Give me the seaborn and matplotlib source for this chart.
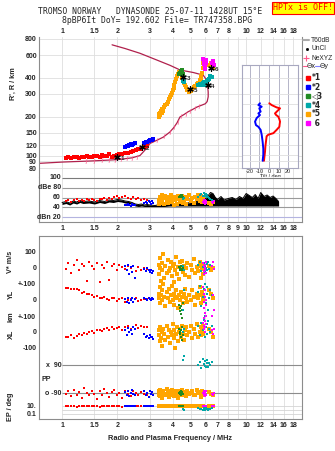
import matplotlib
matplotlib.use('Agg')
import matplotlib.pyplot as plt
import seaborn as sns
from matplotlib.ticker import NullLocator
from matplotlib.lines import Line2D

sns.set_style('white')
plt.rcParams['font.family'] = ['Liberation Sans', 'DejaVu Sans']

# ---------------- data ----------------
FREQ_TICKS = [1, 1.5, 2, 3, 4, 5, 6, 7, 8, 9, 10, 12, 14, 16, 18]
TOP_LABELS = ['1', '1.5', '2', '3', '4', '5', '6', '7', '8', '', '10', '12', '14', '16', '18']
MID_LABELS = ['1', '1.5', '2', '3', '4', '5', '6', '7', '8', '9', '10', '12', '14', '16', '18']
H_TICKS = [80, 90, 100, 120, 150, 200, 300, 400, 600, 800]

red_f = [1.05, 1.08, 1.12, 1.16, 1.20, 1.24, 1.28, 1.32,
         1.36, 1.40, 1.45, 1.50, 1.55, 1.60, 1.65, 1.70,
         1.75, 1.80, 1.86, 1.92, 1.98, 2.05, 2.12, 2.20,
         2.28, 2.36, 2.44, 2.52, 2.60, 2.68, 2.78, 2.88]
red_h = [96, 97, 96, 98, 97, 96, 98, 97,
         99, 98, 97, 99, 100, 98, 101, 99,
         100, 102, 98, 100, 101, 103, 102, 105,
         104, 107, 108, 110, 112, 113, 116, 119]
red_db = [53, 56, 52, 55, 57, 54, 56, 53,
          57, 55, 58, 56, 54, 58, 57, 59,
          56, 60, 58, 61, 63, 59, 62, 64,
          60, 58, 61, 57, 59, 55, 58, 56]
red_vs = [-5, 30, -30, 20, 50, -10, 25, 10,
          -80, 40, 15, -5, 30, -90, 20, 0,
          35, -75, 10, 25, -10, 20, 5, -5,
          10, 0, 15, -20, 5, -10, 0, -5]
red_yl = [75, 72, 70, 68, 66, 60, 45, 50,
          40, 35, 30, 20, 25, 15, 10, 20,
          5, 0, 15, 10, -5, 5, 10, -10,
          0, 5, -15, 10, -5, 0, 8, 5]
red_xl = [-35, -30, -20, -40, -25, -15, -20, -5,
          -10, 0, 5, -5, 10, 15, 5, 20,
          25, 10, 30, 20, 25, 35, 15, 30,
          40, 20, 35, 45, 25, 40, 30, 35]
red_pp = [-95, -80, -110, -70, -100, -85, -120, -60,
          -90, -105, -75, -95, -130, -80, -100, -65,
          -90, -115, -85, -70, -100, -90, -125, -80,
          -95, -110, -75, -90, -100, -85, -95, -105]
red_ep = [8, 12, 9, 11, 7, 10, 13, 9,
          8, 11, 12, 10, 9, 7, 11, 10,
          13, 8, 9, 12, 10, 11, 6, 9,
          10, 12, 8, 11, 9, 10, 8, 11]

blue_f = [2.20, 2.24, 2.28, 2.32, 2.36, 2.40, 2.44, 2.50,
          2.80, 2.85, 2.90, 2.95, 3.00, 3.04, 3.08, 3.12]
blue_h = [117, 119, 118, 121, 122, 120, 123, 124,
          125, 128, 127, 130, 131, 133, 132, 135]
blue_db = [46, 44, 48, 45, 43, 47, 44, 46,
           50, 52, 49, 53, 51, 48, 54, 50]
blue_vs = [10, -15, 20, -40, 5, -25, 15, -60,
           -5, -20, 0, -15, -25, -10, -30, -20]
blue_yl = [5, -15, 10, -20, 0, 15, -10, 5,
           10, 5, 0, 12, 8, 3, 10, 6]
blue_xl = [10, -20, 25, 0, 15, -10, 30, 20,
           -15, -30, -25, -40, -20, -35, -30, -45]
blue_pp = [-85, -100, -75, -110, -90, -70, -95, -105,
           -80, -100, -90, -115, -75, -95, -85, -100]
blue_ep = [10, 9, 11, 10, 12, 8, 10, 11,
           9, 10, 12, 10, 11, 9, 10, 11]

green_f = [4.30, 4.35, 4.38, 4.42, 4.45, 4.48, 4.50, 4.53]
green_h = [425, 440, 432, 455, 445, 435, 460, 428]
green_db = [62, 64, 63, 65, 61, 66, 63, 62]
green_vs = [5, -10, 0, 10, -5, 15, -15, 0]
green_yl = [-30, -50, -70, -40, -90, -60, -110, -20]
green_xl = [20, -10, 0, -30, 10, -50, 30, -20]
green_pp = [-90, -85, -95, -80, -100, -90, -85, -95]
green_ep = [10, 11, 9, 10, 12, 10, 9, 11]

teal_f = [4.55, 4.60, 5.50, 5.60, 5.70, 5.80, 5.90, 5.95,
          6.00, 6.05, 6.10, 6.15, 6.20, 6.30, 6.40, 6.50]
teal_h = [380, 370, 355, 360, 352, 365, 372, 358,
          350, 362, 375, 368, 385, 395, 410, 405]
teal_db = [58, 60, 62, 65, 68, 64, 70, 66,
           63, 67, 61, 65, 62, 60, 58, 56]
teal_vs = [10, -10, 20, 35, -20, 5, 30, -25,
           15, 0, 25, -10, 35, -5, 20, 10]
teal_yl = [-60, 60, 50, 90, -40, 20, 70, -80,
           100, -20, 40, 80, -60, 10, 60, 30]
teal_xl = [0, 20, 40, -20, 60, 10, 80, -30,
           100, 30, 50, -10, 70, 20, 0, 40]
teal_pp = [120, 150, 90, 110, 70, 130, 95, 85,
           115, 75, 100, 125, 80, 105, 90, 110]
teal_ep = [2, 1, 3, 1.5, 2, 1, 2.5, 1.2,
           2, 3, 1.5, 2, 1, 2, 1.5, 2.5]

orange_f = [3.35, 3.38, 3.40, 3.42, 3.45, 3.48, 3.50, 3.55,
            3.60, 3.62, 3.70, 3.75, 3.80, 3.85, 3.90, 3.95,
            4.00, 4.05, 4.08, 4.12, 4.15, 4.20, 4.25, 4.30,
            4.35, 4.45, 4.50, 4.55, 4.60, 4.65, 4.70, 4.80,
            4.90, 5.00, 5.10, 5.20, 5.30, 5.40, 5.50, 5.60,
            5.65, 5.70, 5.75, 5.80, 5.85, 6.30, 6.45, 6.60]
orange_h = [198, 210, 205, 215, 222, 212, 228, 220,
            236, 246, 252, 262, 272, 286, 296, 306,
            322, 336, 352, 372, 392, 412, 430, 446,
            440, 425, 398, 382, 366, 352, 338, 320,
            312, 318, 330, 338, 345, 356, 368, 386,
            398, 412, 440, 480, 520, 500, 520, 480]
orange_db = [48, 55, 62, 50, 58, 65, 52, 60,
             47, 63, 56, 49, 61, 54, 66, 51,
             58, 45, 62, 55, 60, 48, 64, 57,
             52, 59, 63, 50, 56, 61, 47, 58,
             65, 53, 60, 49, 62, 57, 66, 54,
             59, 63, 51, 58, 55, 50, 48, 52]
orange_vs = [20, -40, 60, 0, -80, 30, -10, 90,
             -60, 10, -30, 50, -20, 0, 40, -50,
             15, -90, 25, -15, 70, -35, 5, -70,
             35, -5, 45, -25, 10, -45, 0, 30,
             -55, 20, -10, 55, -30, 5, -20, 40,
             -60, 15, -5, 25, -40, 10, -15, 0]
orange_yl = [40, 10, 80, -20, 30, 60, 0, 100,
             20, -40, 50, 10, 70, -10, 30, 90,
             0, 40, -30, 20, 60, 10, -50, 30,
             0, 50, 20, -20, 40, 70, 10, -10,
             30, 0, 60, 20, -30, 40, 10, 80,
             -20, 30, 50, 0, 20, 60, 40, 10]
orange_xl = [-20, 10, -60, 30, -40, 0, -90, 20,
             -10, -50, 40, -30, 10, -70, 0, -20,
             50, -40, 10, -100, -10, 30, -60, 0,
             20, -30, 40, -10, -50, 10, 30, -20,
             0, 40, -40, 20, -10, 50, -30, 0,
             30, -20, 10, 40, -10, 20, 0, -30]
orange_pp = [-80, -100, -70, -110, -90, -85, -120, -75,
             -95, -105, -65, -90, -115, -80, -100, -70,
             -95, -110, -85, -75, -100, -90, -120, -80,
             -95, -105, -70, -90, -100, -85, -110, -75,
             -95, -90, -80, -105, -100, -70, -90, -85,
             -115, -95, -80, -100, -90, -85, -95, -100]
orange_ep = [10, 9, 11, 12, 8, 10, 11, 9,
             10, 12, 9, 11, 10, 8, 11, 10,
             9, 12, 10, 11, 9, 10, 12, 8,
             11, 10, 9, 12, 10, 11, 9, 10,
             12, 8, 10, 11, 9, 10, 12, 10,
             11, 9, 10, 12, 8, 10, 11, 9]

magenta_f = [5.85, 5.88, 5.90, 5.92, 5.95, 5.98, 6.00, 6.02, 6.05, 6.50, 6.60, 6.70]
magenta_h = [560, 545, 530, 515, 500, 485, 470, 550, 520, 525, 545, 505]
magenta_db = [52, 55, 50, 53, 48, 56, 51, 54, 49, 52, 50, 53]
magenta_vs = [30, -20, 10, -40, 20, 0, -10, 35, -30, 15, 40, -5]
magenta_yl = [80, 40, -10, -50, 20, -80, 60, -30, 0, -100, 30, -60]
magenta_xl = [60, 20, 90, 40, 0, 70, 30, 100, 50, 10, -10, 20]
magenta_pp = [-90, -100, -80, -95, -110, -85, -90, -100, -75, -95, -105, -90]
magenta_ep = [10, 11, 9, 12, 10, 8, 11, 10, 9, 12, 10, 11]

# model profile curve (R vs f)
curve_f = [0.75, 1.0, 1.5, 2.0, 2.4, 2.65, 2.85, 3.0,
           3.3, 3.55, 3.85, 4.05, 4.21, 4.37, 4.6, 4.83,
           5.1, 5.42, 5.75, 6.0, 6.14, 6.22, 6.22, 6.18,
           6.1, 5.84, 5.16, 4.38, 3.86, 3.28, 2.65, 2.2, 1.87]
curve_h = [87, 89, 91, 93, 96, 100, 112, 124,
           132, 139, 152, 165, 179, 199, 208, 218,
           227, 238, 246, 252, 262, 285, 310, 345,
           385, 420, 440, 460, 500, 549, 620, 675, 721]
nexyz_f = [1.35, 1.5, 1.65, 1.8, 1.95, 2.1, 2.25, 2.4, 2.55,
           3.3, 3.6, 3.85, 4.05, 4.25, 4.45, 4.7, 4.95, 5.25, 5.55]
nexyz_h = [91, 91, 92, 92, 93, 94, 95, 96, 98,
           132, 141, 152, 165, 182, 201, 210, 221, 232, 242]

mark_f = [2.0, 2.72, 4.55, 6.2, 4.97, 6.45]
mark_h = [97, 117, 405, 352, 330, 480]
mark_lbl = ['1', '2', '3', '4', '5', '6']

# tilt inset
tilt_h_red = [254, 246, 236, 232, 222, 212, 206, 200,
              190, 183, 175, 167, 158, 149, 145, 141,
              128, 118, 107, 98, 91]
tilt_red = [0.3, 2.8, 8, 11.6, 9, 6.3, 7.5, 9.8,
            11, 11.6, 11.2, 10.9, 8, 4.6, -0.7, -2.5,
            -3.2, -3.8, -4.2, -4.8, -5.3]
tilt_h_blue = [254, 246, 239, 232, 219, 212, 206, 195,
               183, 172, 167, 158, 145, 128, 113, 101, 91]
tilt_blue = [-9.5, -11.2, -7.7, -10.2, -8.8, -11.2, -9.5, -13,
             -14.7, -13.7, -11.2, -8.8, -7.7, -6.7, -6, -6, -6.7]
TILT_TICKS = [-20, -10, 0, 10, 20]

# amplitude noise trace
noise_f = [1.0, 1.05, 1.1, 1.15, 1.2, 1.25, 1.3, 1.4,
           1.5, 1.6, 1.7, 1.8, 1.9, 2.0, 2.1, 2.2,
           2.3, 2.4, 2.5, 2.6, 2.7, 2.8, 2.9, 3.0,
           3.2, 3.4, 3.6, 3.8, 4.0, 4.3, 4.6, 5.0,
           5.4, 5.8, 6.0, 6.2, 6.4, 6.6, 6.8, 7.0,
           7.3, 7.6, 8.0, 8.4, 8.8, 9.2, 9.6, 10.0,
           10.4, 10.8, 11.2, 11.6, 12.0, 12.5, 13.0, 13.5,
           14.0, 14.5, 15.0]
noise_hi = [50, 52, 49, 53, 51, 54, 52, 53,
            51, 54, 52, 55, 54, 56, 55, 53,
            52, 50, 47, 46, 47, 45, 46, 45,
            44, 46, 45, 48, 47, 49, 48, 50,
            52, 54, 58, 63, 70, 68, 60, 56,
            62, 55, 58, 60, 56, 62, 58, 68,
            64, 60, 66, 58, 70, 62, 65, 60,
            63, 58, 52]
noise_lo = [46, 48, 45, 49, 47, 50, 48, 49,
            47, 50, 48, 51, 50, 52, 51, 49,
            48, 46, 43, 42, 43, 42, 42, 42,
            42, 42, 42, 43, 43, 43, 43, 43,
            43, 43, 43, 43, 43, 43, 43, 43,
            43, 43, 43, 43, 43, 43, 43, 43,
            43, 43, 43, 43, 43, 43, 43, 43,
            43, 43, 43]

RED, BLUE, GREEN, TEAL, ORANGE, MAGENTA = '#ff0000', '#0000ff', '#228b22', '#00a8a8', '#ffa500', '#ff00ff'
MAROON, PINK = '#b0204c', '#ff5a8c'
GRID = '#dedede'
FRAME = '#8c8c8c'

series = [
    (red_f, red_h, red_db, red_vs, red_yl, red_xl, red_pp, red_ep, RED),
    (blue_f, blue_h, blue_db, blue_vs, blue_yl, blue_xl, blue_pp, blue_ep, BLUE),
    (orange_f, orange_h, orange_db, orange_vs, orange_yl, orange_xl, orange_pp, orange_ep, ORANGE),
    (green_f, green_h, green_db, green_vs, green_yl, green_xl, green_pp, green_ep, GREEN),
    (teal_f, teal_h, teal_db, teal_vs, teal_yl, teal_xl, teal_pp, teal_ep, TEAL),
    (magenta_f, magenta_h, magenta_db, magenta_vs, magenta_yl, magenta_xl, magenta_pp, magenta_ep, MAGENTA),
]

# ---------------- figure ----------------
W, H = 335, 451
fig = plt.figure(figsize=(W / 100, H / 100), dpi=100)
fig.patch.set_facecolor('white')


def rect(x0, y0, x1, y1):
    return [x0 / W, 1 - y1 / H, (x1 - x0) / W, (y1 - y0) / H]


def fx(x):
    return x / W


def fy(y):
    return 1 - y / H


XMIN, XMAX = 0.75, 20.1
TFS = 5


def psize(c):
    return 7 if c == ORANGE else 4.5


def bold_ticks(a):
    for lbl in a.get_xticklabels() + a.get_yticklabels():
        lbl.set_fontweight('bold')


def pts(a, x, y, color, s):
    sns.scatterplot(x=x, y=y, ax=a, color=color, marker='s', s=s, linewidth=0,
                    legend=False, zorder=3)


def style_frame(a, hide=()):
    for k, sp in a.spines.items():
        sp.set_color(FRAME)
        sp.set_linewidth(0.8)
        if k in hide:
            sp.set_visible(False)


# ----- main ionogram -----
ax = fig.add_axes(rect(39, 37, 302, 177))
ax.set_xscale('log')
ax.set_yscale('log')
ax.set_xlim(XMIN, XMAX)
ax.set_ylim(68.2, 829)
ax.xaxis.set_minor_locator(NullLocator())
ax.yaxis.set_minor_locator(NullLocator())
ax.set_xticks(FREQ_TICKS)
ax.set_xticklabels(TOP_LABELS)
ax.xaxis.tick_top()
ax.set_yticks(H_TICKS)
ax.set_yticklabels([str(v) for v in H_TICKS])
ax.tick_params(length=0, labelsize=TFS, pad=1.5)
ax.grid(True, color=GRID, lw=0.6)
bold_ticks(ax)
style_frame(ax, hide=('bottom', 'top'))

sns.lineplot(x=curve_f, y=curve_h, ax=ax, sort=False, estimator=None, color=MAROON, lw=0.9, zorder=2)
sns.scatterplot(x=nexyz_f, y=nexyz_h, ax=ax, color=PINK, marker='$I$', s=12, linewidth=0, legend=False, zorder=2)
for (f, h, db, vs, yl, xl, pp, ep, c) in series:
    pts(ax, f, h, c, 11 if c == ORANGE else 5)
sns.scatterplot(x=mark_f, y=mark_h, ax=ax, color='black', marker=(6, 2, 0), s=16, linewidth=0.9,
                edgecolor='black', legend=False, zorder=4)
for f, h, l in zip(mark_f, mark_h, mark_lbl):
    ax.annotate(l, (f, h), xytext=(2.5, -1), textcoords='offset points', fontsize=4.5,
                fontweight='bold', va='center', ha='left', zorder=5)
ax.set_xlabel('')
ax.set_ylabel('')

# ----- tilt inset -----
axt = fig.add_axes(rect(242, 65, 298, 168))
axt.set_facecolor('white')
axt.set_xlim(-28.4, 30.5)
axt.set_yscale('log')
axt.set_ylim(80, 503)
axt.yaxis.set_minor_locator(NullLocator())
axt.set_xticks(TILT_TICKS)
axt.set_xticklabels([str(v) for v in TILT_TICKS])
axt.set_yticks([90, 100, 120, 150, 200, 250, 300, 400])
axt.set_yticklabels([])
axt.tick_params(length=0, labelsize=4, pad=0.5)
axt.grid(True, axis='y', color=GRID, lw=0.6)
axt.grid(True, axis='x', color='#b4b4c8', lw=0.7)
for sp in axt.spines.values():
    sp.set_color('#a8a8c0')
    sp.set_linewidth(0.8)
sns.lineplot(x=tilt_red, y=tilt_h_red, ax=axt, sort=False, estimator=None, color=RED, lw=1.4)
sns.lineplot(x=tilt_blue, y=tilt_h_blue, ax=axt, sort=False, estimator=None, color=BLUE, lw=1.4)
axt.set_xlabel('Tilt / deg', fontsize=4, labelpad=0)
axt.set_ylabel('')

# ----- amplitude panel -----
axd = fig.add_axes(rect(39, 177, 302, 222))
axd.set_xscale('log')
axd.set_xlim(XMIN, XMAX)
axd.set_ylim(11, 101)
axd.xaxis.set_minor_locator(NullLocator())
axd.set_xticks(FREQ_TICKS)
axd.set_xticklabels(MID_LABELS)
axd.set_yticks([])
axd.tick_params(length=0, labelsize=TFS, pad=2)
axd.grid(True, axis='x', color=GRID, lw=0.6)
bold_ticks(axd)
style_frame(axd, hide=('top',))
for v, c in [(100, '#7a7a7a'), (80, '#9a9a9a'), (60, '#9a9a9a'), (40, '#9a9a9a'), (20, '#b4b4e0')]:
    axd.hlines(v, 1.0, XMAX, color=c, lw=0.8, zorder=1)
for v, l in [(100, '100'), (80, 'dBe 80'), (60, '60'), (40, '40'), (20, 'dBn 20')]:
    axd.text(0.985, v, l, ha='right', va='center', fontsize=TFS, fontweight='bold')
axd.fill_between(noise_f, noise_lo, noise_hi, color='black', lw=0, zorder=2)
sns.lineplot(x=noise_f, y=noise_hi, ax=axd, color='black', lw=0.7, estimator=None, zorder=2)
for (f, h, db, vs, yl, xl, pp, ep, c) in series:
    pts(axd, f, db, c, psize(c))
axd.set_xlabel('')
axd.set_ylabel('')

# ----- lower multi-parameter panel -----
LR = rect(39, 236, 302, 419)
axv = fig.add_axes(LR)
axv.set_xscale('log')
axv.set_xlim(XMIN, XMAX)
axv.xaxis.set_minor_locator(NullLocator())
axv.set_xticks(FREQ_TICKS)
axv.set_xticklabels(TOP_LABELS)
axv.set_ylim(-943.75, 200)
axv.set_yticks([100, 0])
axv.set_yticklabels(['100', '0'])
axv.tick_params(length=0, labelsize=TFS, pad=2)
axv.grid(True, axis='x', color=GRID, lw=0.6)
bold_ticks(axv)
style_frame(axv)


def overlay(ylim, ticks, labels, log=False):
    a = fig.add_axes(LR)
    a.patch.set_alpha(0)
    a.set_xscale('log')
    a.set_xlim(XMIN, XMAX)
    if log:
        a.set_yscale('log')
    a.set_ylim(*ylim)
    a.xaxis.set_minor_locator(NullLocator())
    a.yaxis.set_minor_locator(NullLocator())
    a.set_xticks([])
    a.set_yticks(ticks)
    a.set_yticklabels(labels)
    a.tick_params(length=0, labelsize=TFS, pad=2)
    bold_ticks(a)
    for sp in a.spines.values():
        sp.set_visible(False)
    return a


axyl = overlay((-743.75, 400), [100, 0], ['+-100', '0'])
axxl = overlay((-561, 619), [100, 0, -100], ['+-100', '0', '-100'])
axpp = overlay((-257, 919), [], [])
axep = overlay((10 ** -2.25, 10 ** 43.5), [10, 0.1], ['10.', '0.1'], log=True)

axpp.hlines([90, -90], 1.0, XMAX, color='#8c8c8c', lw=0.8, zorder=1)
axep.hlines([10, 1, 0.1], 1.0, XMAX, color='#d4d4d4', lw=0.6, zorder=1)
axpp.text(0.99, 90, 'x  90', ha='right', va='center', fontsize=TFS, fontweight='bold')
axpp.text(0.99, -90, 'o -90', ha='right', va='center', fontsize=TFS, fontweight='bold')
axpp.text(0.775, -6, 'PP', ha='left', va='center', fontsize=TFS, fontweight='bold')

for (f, h, db, vs, yl, xl, pp, ep, c) in series:
    s = psize(c)
    pts(axv, f, vs, c, s)
    pts(axyl, f, yl, c, s)
    pts(axxl, f, xl, c, s)
    pts(axpp, f, pp, c, s)
    pts(axep, f, ep, c, s)
for a in (axv, axyl, axxl, axpp, axep):
    a.set_xlabel('')
    a.set_ylabel('')

# ----- axis titles -----
fig.text(fx(13), fy(84), "R', R / km", rotation=90, ha='center', va='center', fontsize=5.2, fontweight='bold')
fig.text(fx(11), fy(262), 'V* m/s', rotation=90, ha='center', va='center', fontsize=5.2, fontweight='bold')
fig.text(fx(11), fy(294), 'YL', rotation=90, ha='center', va='center', fontsize=5.2, fontweight='bold')
fig.text(fx(11), fy(317), 'km', rotation=90, ha='center', va='center', fontsize=5.2, fontweight='bold')
fig.text(fx(11), fy(334), 'XL', rotation=90, ha='center', va='center', fontsize=5.2, fontweight='bold')
fig.text(fx(11), fy(407), 'EP / deg', rotation=90, ha='center', va='center', fontsize=5.2, fontweight='bold')
fig.text(fx(170), fy(438), 'Radio and Plasma Frequency / MHz', ha='center', va='center', fontsize=5.3,
         fontweight='bold')

# ----- header -----
fig.text(fx(150), fy(12), 'TROMSO NORWAY   DYNASONDE 25-07-11 1428UT 15\u00b0E', ha='center', va='center',
         family='DejaVu Sans Mono', fontsize=5.9)
fig.text(fx(157), fy(20.5), '8pBP6It DoY= 192.602 File= TR747358.BPG', ha='center', va='center',
         family='DejaVu Sans Mono', fontsize=5.9)
fig.text(fx(303), fy(8), 'HPTx is OFF!', ha='center', va='center', family='DejaVu Sans Mono', fontsize=6,
         color='red', bbox=dict(boxstyle='square,pad=0.15', facecolor='#ffff00', edgecolor='red', lw=0.8))

# ----- legend -----
LFS = 4.8
fig.add_artist(Line2D([fx(303), fx(309)], [fy(40), fy(40)], color='#aaaaaa', lw=1.5))
fig.text(fx(311), fy(40), 'T60dB', fontsize=LFS, va='center', ha='left')
fig.add_artist(Line2D([fx(307)], [fy(49)], color='black', marker='s', ms=1, lw=0))
fig.text(fx(311), fy(49), 'UnCl', fontsize=LFS, va='center', ha='left')
fig.add_artist(Line2D([fx(306)], [fy(58)], color=PINK, marker='+', ms=4, lw=0, mew=0.8))
fig.text(fx(311), fy(58), 'NeXYZ', fontsize=LFS, va='center', ha='left')
fig.add_artist(Line2D([fx(303), fx(307)], [fy(66), fy(66)], color=PINK, lw=0.8))
fig.text(fx(307), fy(66), '\u0398x', fontsize=LFS, va='center', ha='left', family='DejaVu Sans')
fig.add_artist(Line2D([fx(315), fx(320)], [fy(66), fy(66)], color='#8080ff', lw=0.8))
fig.text(fx(320), fy(66), '\u0398y', fontsize=LFS, va='center', ha='left', family='DejaVu Sans')
leg_items = [('*1', RED, 78), ('*2', BLUE, 87), ('\u25c13', GREEN, 96), ('*4', TEAL, 105),
             ('*5', ORANGE, 114), (' 6', MAGENTA, 123)]
for txt, c, y in leg_items:
    fig.add_artist(Line2D([fx(308)], [fy(y)], color=c, marker='s', ms=2.3, lw=0))
    fig.text(fx(312), fy(y), txt, fontsize=5.5, va='center', ha='left', family='DejaVu Sans',
             fontweight='bold')

fig.savefig('out.png', dpi=100, facecolor='white')
